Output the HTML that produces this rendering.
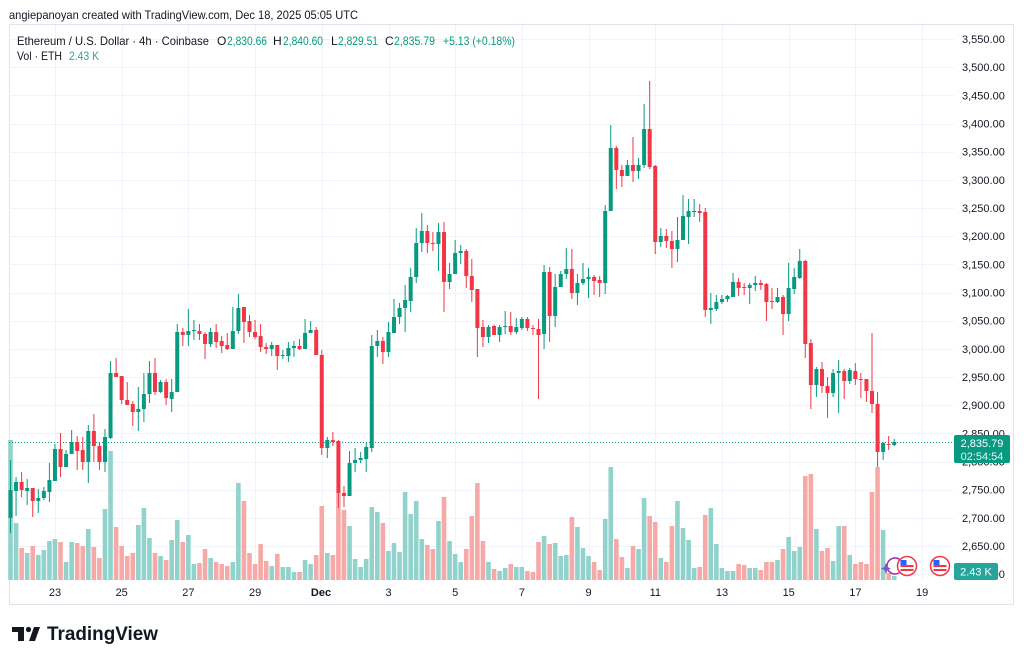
<!DOCTYPE html>
<html><head><meta charset="utf-8"><style>
html,body{margin:0;padding:0;background:#fff;}
svg{display:block;font-family:"Liberation Sans",sans-serif;}
</style></head><body>
<svg id="s" width="1024" height="661" viewBox="0 0 1024 661" xmlns="http://www.w3.org/2000/svg">
<rect width="1024" height="661" fill="#fff"/>
<text x="9" y="19" font-size="12" fill="#131722" textLength="349" lengthAdjust="spacingAndGlyphs">angiepanoyan created with TradingView.com, Dec 18, 2025 05:05 UTC</text>
<rect x="9.5" y="24.5" width="1004" height="580" fill="none" stroke="#e0e3eb"/>
<g id="grid" stroke="#f0f3fa" stroke-width="1"></g>
<g id="vol"></g>
<line x1="9" y1="442.5" x2="954" y2="442.5" stroke="#089981" stroke-width="1" stroke-dasharray="1,2"/>
<g id="cnd"></g>
<g font-size="12">
<text x="17" y="45" fill="#131722" textLength="192" lengthAdjust="spacingAndGlyphs">Ethereum / U.S. Dollar · 4h · Coinbase</text>
<text x="217" y="45" fill="#131722">O</text><text x="227" y="45" fill="#089981" textLength="40" lengthAdjust="spacingAndGlyphs">2,830.66</text>
<text x="273" y="45" fill="#131722">H</text><text x="283" y="45" fill="#089981" textLength="40" lengthAdjust="spacingAndGlyphs">2,840.60</text>
<text x="331" y="45" fill="#131722">L</text><text x="338" y="45" fill="#089981" textLength="40" lengthAdjust="spacingAndGlyphs">2,829.51</text>
<text x="385" y="45" fill="#131722">C</text><text x="394" y="45" fill="#089981" textLength="41" lengthAdjust="spacingAndGlyphs">2,835.79</text>
<text x="443" y="45" fill="#089981" textLength="72" lengthAdjust="spacingAndGlyphs">+5.13 (+0.18%)</text>
<text x="17" y="60" fill="#131722" textLength="45" lengthAdjust="spacingAndGlyphs">Vol · ETH</text>
<text x="69" y="60" fill="#26a69a" textLength="30" lengthAdjust="spacingAndGlyphs">2.43 K</text>
</g>
<g id="plab" font-size="11" fill="#131722"></g>
<g font-size="11" fill="#131722" text-anchor="middle">
<text x="55" y="596">23</text><text x="121.7" y="596">25</text><text x="188.4" y="596">27</text><text x="255.1" y="596">29</text>
<text x="321" y="596" font-weight="bold">Dec</text><text x="388.5" y="596">3</text><text x="455.2" y="596">5</text><text x="521.9" y="596">7</text>
<text x="588.6" y="596">9</text><text x="655.3" y="596">11</text><text x="722" y="596">13</text><text x="788.7" y="596">15</text>
<text x="855.4" y="596">17</text><text x="922.1" y="596">19</text>
</g>
<!-- price label -->
<rect x="954" y="435" width="56" height="28" rx="2" fill="#089981"/>
<text x="982" y="447" font-size="11" fill="#fff" text-anchor="middle">2,835.79</text>
<text x="982" y="460" font-size="11" fill="#e6f5f2" text-anchor="middle">02:54:54</text>
<rect x="954" y="563" width="44" height="17" rx="2" fill="#26a69a"/>
<text x="976" y="575.5" font-size="11" fill="#fff" text-anchor="middle">2.43 K</text>
<!-- icons -->
<circle cx="895" cy="566" r="8" fill="none" stroke="#9c27b0" stroke-width="1.5"/>
<path d="M886 563 L887.5 567 L891 568.5 L887.5 570 L886 574 L884.5 570 L881 568.5 L884.5 567 Z" fill="#7e57c2"/>
<g id="flag1" transform="translate(907,566)">
<circle r="9.5" fill="#fff" stroke="#f23645" stroke-width="1.5"/>
<rect x="-6.5" y="-1" width="13" height="2" fill="#f23645"/><rect x="-6.5" y="3" width="13" height="2" fill="#f23645"/>
<rect x="-6.5" y="-6" width="6" height="5" fill="#2962ff"/>
</g>
<g transform="translate(940,566)">
<circle r="9.5" fill="#fff" stroke="#f23645" stroke-width="1.5"/>
<rect x="-6.5" y="-1" width="13" height="2" fill="#f23645"/><rect x="-6.5" y="3" width="13" height="2" fill="#f23645"/>
<rect x="-6.5" y="-6" width="6" height="5" fill="#2962ff"/>
</g>
<!-- logo -->
<g fill="#131722">
<rect x="12" y="627" width="12" height="5"/>
<rect x="18" y="627" width="6" height="14"/>
<circle cx="28.5" cy="629.5" r="2.6"/>
<path d="M29 641 L34 627 L40 627 L35 641 Z"/>
</g>
<text x="47" y="640" font-size="19" font-weight="bold" fill="#131722" textLength="111" lengthAdjust="spacingAndGlyphs">TradingView</text>
</svg>
<script>
(function(){
var D=[[1,490,518,460,533,440],[1,482,491,477,516,523],[0,482,490,472,497,548],[1,488,491,479,505,553],[0,488,501,488,517,546],[1,498,501,489,513,555],[1,491,498,487,500,550],[1,480,492,463,502,541],[1,449,481,444,481,539],[0,449,467,433,477,542],
[1,454,467,450,467,562],[1,442,454,430,454,542],[0,442,451,436,470,543],[0,450,462,437,470,546],[1,431,462,425,483,529],[0,431,446,414,462,547],[0,446,462,442,470,558],[1,437,462,429,472,509],[1,373,438,361,439,451],[0,373,377,358,377,527],
[0,376,400,376,404,546],[0,400,405,382,405,556],[0,404,412,401,426,553],[1,409,412,387,431,525],[1,394,409,373,422,508],[1,373,394,361,403,538],[0,373,392,358,395,553],[1,382,392,380,393,556],[0,382,398,379,405,560],[1,392,399,379,412,540],
[1,332,392,324,392,520],[0,332,335,328,346,542],[1,331,335,309,346,535],[1,330,331,320,340,564],[0,331,334,324,340,563],[0,334,344,332,359,549],[1,332,344,328,347,558],[0,332,342,324,348,562],[0,341,346,336,353,564],[0,345,349,333,350,566],
[1,331,349,307,349,562],[1,308,331,294,334,483],[0,307,322,307,343,501],[0,321,332,315,337,553],[0,332,337,320,339,564],[0,336,347,324,352,544],[0,347,349,343,354,561],[1,345,349,342,356,566],[0,345,356,345,370,554],[1,355,356,350,359,567],
[1,348,356,342,362,567],[1,346,348,341,357,572],[0,346,349,339,350,572],[1,333,349,319,349,560],[1,330,333,321,333,564],[0,330,355,327,355,555],[0,355,448,350,455,506],[1,440,448,437,458,553],[0,440,442,432,446,555],[0,441,493,440,508,493],
[0,493,496,486,507,510],[1,463,496,451,496,526],[1,460,463,448,472,559],[1,458,460,452,463,567],[1,447,459,443,472,559],[1,346,448,335,452,507],[1,341,346,330,357,512],[0,341,352,337,364,523],[1,332,352,322,357,551],[1,317,333,299,333,543],
[1,308,317,303,324,552],[1,300,308,285,332,492],[1,277,301,268,312,514],[1,243,277,228,283,501],[1,231,243,213,252,539],[0,231,243,225,253,545],[0,243,244,232,251,549],[1,232,244,223,271,521],[0,232,282,222,312,497],[1,274,282,263,289,541],
[1,253,274,240,274,554],[1,251,253,245,264,562],[0,251,276,249,288,549],[0,276,290,259,302,516],[0,289,328,289,357,483],[0,327,337,320,347,541],[1,327,337,325,343,562],[0,326,335,325,335,569],[1,327,335,325,342,571],[1,326,327,311,334,568],
[0,326,332,312,335,564],[1,327,332,318,334,567],[1,319,328,317,330,567],[0,319,328,317,331,571],[0,328,329,325,335,572],[0,329,335,319,399,542],[1,272,334,265,349,536],[0,272,316,267,342,544],[1,287,316,274,327,543],[1,274,287,271,287,556],
[1,269,274,248,279,555],[0,269,293,249,299,517],[1,283,293,274,305,527],[1,279,283,263,285,548],[1,277,279,268,298,556],[0,277,281,275,295,562],[0,280,283,276,297,570],[1,211,283,205,294,519],[1,148,211,125,211,467],[0,148,170,146,189,539],
[0,170,176,165,187,557],[1,165,176,160,176,568],[0,165,171,137,182,546],[1,165,171,158,179,549],[1,129,165,104,168,498],[0,129,167,81,169,516],[0,166,242,165,254,522],[1,236,242,228,247,558],[0,236,241,229,248,562],[0,241,249,231,268,526],
[1,240,249,217,262,501],[1,216,240,195,240,528],[1,211,217,199,244,540],[1,211,212,199,217,568],[0,211,213,204,222,567],[0,212,310,208,317,515],[1,308,310,293,324,508],[1,302,309,295,311,544],[1,299,302,295,304,568],[1,296,299,295,302,571],
[1,282,297,273,297,571],[0,282,288,278,296,564],[0,287,288,283,295,565],[1,285,288,283,304,568],[1,283,285,276,291,568],[0,283,285,280,290,570],[0,284,302,283,321,562],[0,301,302,288,309,562],[1,297,302,288,303,560],[0,297,314,295,335,549],
[1,288,314,263,321,537],[1,277,289,268,294,551],[1,261,278,249,279,547],[0,261,344,260,358,476],[0,343,385,339,409,474],[1,369,385,367,397,529],[0,369,386,362,393,551],[0,386,393,377,418,548],[1,373,393,369,397,561],[1,371,373,360,413,526],
[0,371,381,369,399,526],[1,370,381,368,384,555],[0,371,379,363,385,564],[0,379,380,373,398,562],[0,379,391,379,402,564],[0,391,404,333,413,492],[0,404,452,392,467,467],[1,443,452,442,460,530],[0,444,445,436,450,573],[1,442,445,439,446,576]];
var NS="http://www.w3.org/2000/svg";
function el(parent,tag,attrs,txt){var e=document.createElementNS(NS,tag);for(var k in attrs)e.setAttribute(k,attrs[k]);if(txt!=null)e.textContent=txt;parent.appendChild(e);return e;}
var grid=document.getElementById('grid'),vol=document.getElementById('vol'),cnd=document.getElementById('cnd'),plab=document.getElementById('plab');
var prices=["3,550.00","3,500.00","3,450.00","3,400.00","3,350.00","3,300.00","3,250.00","3,200.00","3,150.00","3,100.00","3,050.00","3,000.00","2,950.00","2,900.00","2,850.00","2,800.00","2,750.00","2,700.00","2,650.00","2,600.00"];
for(var k=0;k<prices.length;k++){var y=39+k*28.17;var yy=Math.round(y)+0.5;
 el(grid,'line',{x1:10,y1:yy,x2:954,y2:yy});
 el(plab,'text',{x:962,y:(y+4).toFixed(1)},prices[k]);}
for(var j=0;j<14;j++){var x=Math.round(55+66.7*j)+0.5;el(grid,'line',{x1:x,y1:25,x2:x,y2:580});}
var G="#089981",R="#f23645",GV="#92d2cc",RV="#f7a9a7";
for(var i=0;i<D.length;i++){var d=D[i];var x=10.5+5.558*i;var c=d[0]?G:R;
 el(vol,'rect',{x:(x-2.3).toFixed(2),y:d[5],width:4.6,height:580-d[5],fill:d[0]?GV:RV});
 el(cnd,'rect',{x:(x-0.5).toFixed(2),y:d[3],width:1,height:Math.max(1,d[4]-d[3]),fill:c});
 el(cnd,'rect',{x:(x-2).toFixed(2),y:d[1],width:4,height:Math.max(1,d[2]-d[1]),fill:c});}
})();
</script>
</body></html>
